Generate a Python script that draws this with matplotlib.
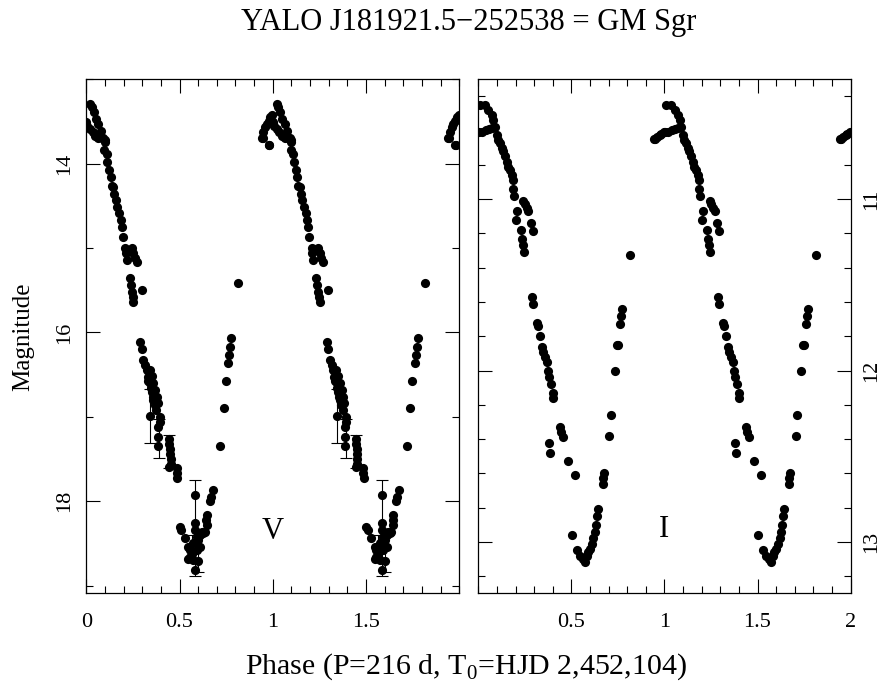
import matplotlib
matplotlib.use("Agg")
import matplotlib.pyplot as plt
import matplotlib.ticker as mticker

# ── DATA (phase in [0,1), plotted twice) ─────────────────
v_phase = [0.941, 0.950, 0.959, 0.968, 0.977, 0.986, 0.997, 0.977, 0.946, 0.981,
           0.000, 0.005, 0.020, 0.034, 0.047, 0.064, 0.082, 0.100,
           0.020, 0.029, 0.041, 0.052, 0.064, 0.077, 0.091, 0.100,
           0.095, 0.109, 0.113, 0.123, 0.131, 0.136, 0.145, 0.150, 0.159, 0.166,
           0.177, 0.184, 0.190, 0.195,
           0.208, 0.212, 0.216, 0.243, 0.252, 0.261, 0.270,
           0.234, 0.238, 0.243, 0.248, 0.252, 0.297,
           0.288, 0.297, 0.306, 0.315, 0.324, 0.329, 0.333, 0.342, 0.345, 0.351,
           0.356, 0.360, 0.368, 0.374, 0.340, 0.350, 0.360, 0.370, 0.378, 0.384,
           0.342, 0.395, 0.395, 0.386, 0.386, 0.386,
           0.445, 0.445, 0.450, 0.450, 0.452, 0.452, 0.445,
           0.485, 0.485, 0.488,
           0.583, 0.678, 0.667, 0.663,
           0.502, 0.510, 0.529, 0.645, 0.643, 0.645,
           0.547, 0.556, 0.565, 0.556, 0.574, 0.583, 0.592, 0.601, 0.610, 0.619,
           0.627, 0.636, 0.574, 0.601, 0.583, 0.547, 0.592, 0.610, 0.583,
           0.717, 0.738, 0.749, 0.761, 0.767, 0.771, 0.777, 0.815]
v_mag = [13.69, 13.63, 13.57, 13.53, 13.49, 13.45, 13.42, 13.78, 13.69, 13.78,
         13.51, 13.55, 13.59, 13.63, 13.67, 13.69, 13.70, 13.72,
         13.29, 13.33, 13.39, 13.47, 13.53, 13.61, 13.69, 13.74,
         13.84, 13.88, 13.98, 14.08, 14.16, 14.26, 14.28, 14.36, 14.43, 14.51,
         14.59, 14.67, 14.75, 14.87,
         15.00, 15.06, 15.14, 15.00, 15.06, 15.12, 15.17,
         15.36, 15.44, 15.52, 15.58, 15.64, 15.50,
         16.11, 16.19, 16.33, 16.39, 16.45, 16.53, 16.57, 16.60, 16.66, 16.70,
         16.76, 16.80, 16.86, 16.92, 16.45, 16.52, 16.60, 16.68, 16.76, 16.84,
         16.99, 17.00, 17.06, 17.12, 17.24, 17.35,
         17.26, 17.32, 17.38, 17.44, 17.50, 17.56, 17.59,
         17.61, 17.67, 17.73,
         17.93, 17.87, 17.95, 18.00,
         18.30, 18.34, 18.44, 18.16, 18.22, 18.28,
         18.54, 18.58, 18.62, 18.66, 18.50, 18.34, 18.42, 18.46, 18.40, 18.36,
         18.38, 18.36, 18.69, 18.71, 18.81, 18.68, 18.58, 18.54, 18.26,
         17.35, 16.90, 16.58, 16.36, 16.27, 16.17, 16.07, 15.41]

# V points carrying error bars
v_err_phase = [0.342, 0.390, 0.445, 0.583, 0.601, 0.565]
v_err_mag = [16.99, 17.26, 17.41, 18.32, 18.62, 18.55]
v_err = [0.32, 0.23, 0.20, 0.57, 0.22, 0.15]

i_phase = [0.943, 0.961, 0.979, 0.996, 0.949, 0.976,
           0.003, 0.018, 0.039, 0.056, 0.074,
           0.009, 0.036, 0.054, 0.072, 0.081, 0.090,
           0.099, 0.107, 0.117, 0.126, 0.134, 0.143, 0.152, 0.161, 0.170, 0.179,
           0.185, 0.188, 0.192,
           0.242, 0.251, 0.260, 0.269, 0.206, 0.203, 0.281, 0.292,
           0.228, 0.234, 0.240, 0.245, 0.815,
           0.287, 0.295, 0.313, 0.322, 0.331, 0.340,
           0.770, 0.766, 0.761, 0.752,
           0.349, 0.358, 0.367, 0.376, 0.381, 0.390, 0.400, 0.403,
           0.743, 0.734,
           0.439, 0.446, 0.453, 0.381, 0.385, 0.713, 0.704,
           0.483, 0.519, 0.675, 0.671, 0.671,
           0.644, 0.638, 0.633, 0.627, 0.618, 0.609, 0.600, 0.591,
           0.502, 0.528, 0.546, 0.560, 0.573, 0.582]
i_mag = [10.65, 10.635, 10.62, 10.605, 10.65, 10.625,
         10.605, 10.61, 10.595, 10.59, 10.586,
         10.45, 10.45, 10.48, 10.51, 10.54, 10.576,
         10.625, 10.654, 10.67, 10.70, 10.72, 10.75, 10.78, 10.81, 10.83, 10.86,
         10.89, 10.94, 10.98,
         11.01, 11.03, 11.05, 11.07, 11.07, 11.12, 11.14, 11.185,
         11.18, 11.235, 11.27, 11.31, 11.325,
         11.57, 11.61, 11.72, 11.74, 11.80, 11.86,
         11.64, 11.68, 11.73, 11.85,
         11.89, 11.92, 11.95, 12.00, 12.04, 12.08, 12.13, 12.16,
         11.85, 12.00,
         12.33, 12.36, 12.39, 12.42, 12.48, 12.26, 12.38,
         12.53, 12.61, 12.60, 12.63, 12.66,
         12.81, 12.85, 12.90, 12.94, 12.98, 13.01, 13.04, 13.06,
         12.96, 13.05, 13.085, 13.10, 13.12, 13.085]

plt.rcParams["font.family"] = ["Liberation Serif", "DejaVu Serif"]
plt.rcParams["mathtext.fontset"] = "custom"
plt.rcParams["mathtext.rm"] = "Liberation Serif"

fig = plt.figure(figsize=(8.87, 6.93), dpi=100)
ax_v = fig.add_axes([0.0973, 0.1439, 0.4205, 0.7417])
ax_i = fig.add_axes([0.5392, 0.1439, 0.4198, 0.7417])


def twice(ph):
    return list(ph) + [p + 1 for p in ph]


def style(ax, ymajor, yminor):
    ax.set_xlim(0, 2)
    ax.xaxis.set_major_locator(mticker.MultipleLocator(0.5))
    ax.xaxis.set_minor_locator(mticker.MultipleLocator(0.1))
    ax.yaxis.set_major_locator(mticker.MultipleLocator(ymajor))
    ax.yaxis.set_minor_locator(mticker.MultipleLocator(yminor))
    ax.tick_params(which="both", direction="in", top=True, right=True,
                   left=True, bottom=True, width=0.8, labelsize=16)
    ax.tick_params(which="major", length=10)
    ax.tick_params(which="minor", length=5)
    ax.tick_params(axis="x", pad=14)
    ax.tick_params(axis="y", pad=9)
    for s in ax.spines.values():
        s.set_linewidth(0.9)
    ax.xaxis.set_major_formatter(mticker.FuncFormatter(lambda x, _: f"{x:g}"))
    ax.yaxis.set_major_formatter(mticker.FuncFormatter(lambda y, _: f"{y:g}"))


# ── V panel ──────────────────────────────────────────────
ax_v.errorbar(twice(v_err_phase), v_err_mag * 2, yerr=v_err * 2, fmt="none",
              ecolor="black", elinewidth=0.8, capsize=4, capthick=0.8, zorder=2)
ax_v.plot(twice(v_phase), v_mag * 2, "o", color="black", ms=6.6, mew=0, zorder=3)
ax_v.set_ylim(19.09, 13.0)
style(ax_v, 2, 1)
ax_v.set_xticks([0, 0.5, 1, 1.5])
ax_v.set_ylabel("Magnitude", fontsize=18, va="center")
ax_v.yaxis.set_label_coords(-0.17, 0.5)
for lbl in ax_v.get_yticklabels():
    lbl.set_rotation(90)
    lbl.set_va("center")
ax_v.text(1.0, 18.36, "V", fontsize=22, ha="center", va="center")

# ── I panel ──────────────────────────────────────────────
ax_i.plot(twice(i_phase), i_mag * 2, "o", color="black", ms=6.6, mew=0, zorder=3)
ax_i.set_ylim(13.3, 10.3)
style(ax_i, 1, 0.2)
ax_i.set_xticks([0.5, 1, 1.5, 2])
ax_i.yaxis.tick_right()
ax_i.tick_params(axis="y", which="both", left=True, right=True,
                 labelleft=False, labelright=True, pad=8)
for lbl in ax_i.get_yticklabels():
    lbl.set_rotation(90)
    lbl.set_va("center")
ax_i.text(1.0, 12.93, "I", fontsize=22, ha="center", va="center")

fig.text(0.528, 0.968, "YALO J181921.5\u2212252538 = GM Sgr",
         fontsize=22, ha="center", va="center")
fig.text(0.525, 0.038, "Phase (P=216 d, T$_0$=HJD 2,452,104)",
         fontsize=21.5, ha="center", va="center")

fig.savefig("out.png", dpi=100)
